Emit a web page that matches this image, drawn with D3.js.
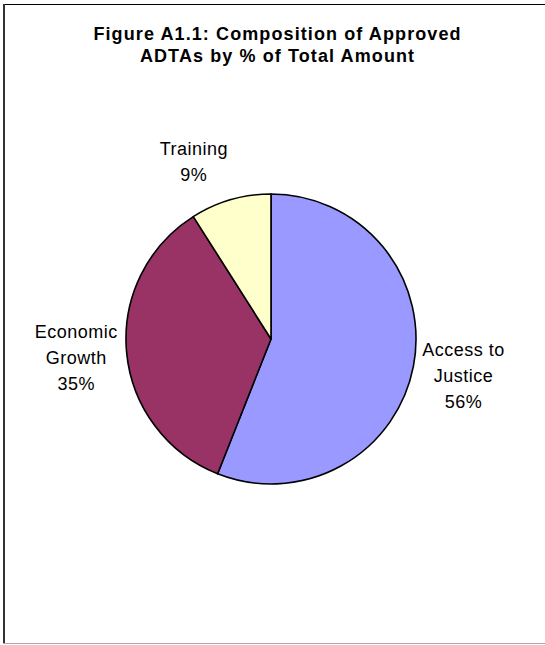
<!DOCTYPE html>
<html><head><meta charset="utf-8">
<script src="https://cdn.jsdelivr.net/npm/d3@7"></script>
<style>html,body{margin:0;padding:0;background:#fff;}svg{display:block;}</style>
</head><body>
<svg id="c" width="545" height="645"></svg>
<script>
const categories = ["Access to Justice", "Economic Growth", "Training"];
const values = [56, 35, 9];
const labelLines = [["Access to", "Justice", "56%"], ["Economic", "Growth", "35%"], ["Training", "9%"]];
const colors = ["#9999FF", "#993366", "#FFFFCC"];
const titleLines = ["Figure A1.1: Composition of Approved", "ADTAs by % of Total Amount"];

const svg = d3.select("#c");
const W = 545, H = 645;
svg.append("rect").attr("x", 0).attr("y", 0).attr("width", W).attr("height", H).attr("fill", "#fff");
// frame
svg.append("line").attr("x1", 3).attr("x2", W).attr("y1", 4.5).attr("y2", 4.5).attr("stroke", "#000").attr("stroke-width", 1);
svg.append("line").attr("x1", 4).attr("x2", 4).attr("y1", 4).attr("y2", 644).attr("stroke", "#333").attr("stroke-width", 2);
svg.append("line").attr("x1", 3).attr("x2", W).attr("y1", 643.5).attr("y2", 643.5).attr("stroke", "#aaa").attr("stroke-width", 1);

const ls = 1.1;
const title = svg.append("text").attr("text-anchor", "middle")
  .attr("font-family", "Liberation Sans, Arial, sans-serif").attr("font-weight", "bold")
  .attr("font-size", 18).attr("letter-spacing", ls).attr("fill", "#000");
titleLines.forEach((t, i) => title.append("tspan").attr("x", 277 + ls / 2).attr("y", 40 + i * 22).text(t));

const cx = 271, cy = 339, r = 145;
const pie = d3.pie().sort(null).value(d => d)(values);
const arc = d3.arc().innerRadius(0).outerRadius(r);
const g = svg.append("g").attr("transform", `translate(${cx},${cy})`);
g.selectAll("path").data(pie).join("path")
  .attr("d", arc).attr("fill", (d, i) => colors[i])
  .attr("stroke", "#000").attr("stroke-width", 1.6).attr("stroke-linejoin", "round");

// labels: box placed just outside the slice mid-angle
const gapX = 9, gapY = 16, lineH = 26;
pie.forEach((d, i) => {
  const a = (d.startAngle + d.endAngle) / 2;
  const ax = Math.sin(a) * (r + gapX), ay = -Math.cos(a) * (r + gapY);
  const lines = labelLines[i];
  const t = g.append("text").attr("text-anchor", "middle")
    .attr("font-family", "Liberation Sans, Arial, sans-serif").attr("font-size", 18)
    .attr("letter-spacing", 0.5).attr("fill", "#000");
  lines.forEach((s, j) => t.append("tspan").attr("x", 0).attr("y", j * lineH).text(s));
  const bb = t.node().getBBox();
  const bcx = bb.x + bb.width / 2, bcy = bb.y + bb.height / 2;
  const tx = ax + Math.sign(Math.sin(a)) * bb.width / 2 - bcx;
  const ty = ay - Math.cos(a) * bb.height / 2 - bcy;
  t.attr("transform", `translate(${tx},${ty})`);
});
</script>
</body></html>
